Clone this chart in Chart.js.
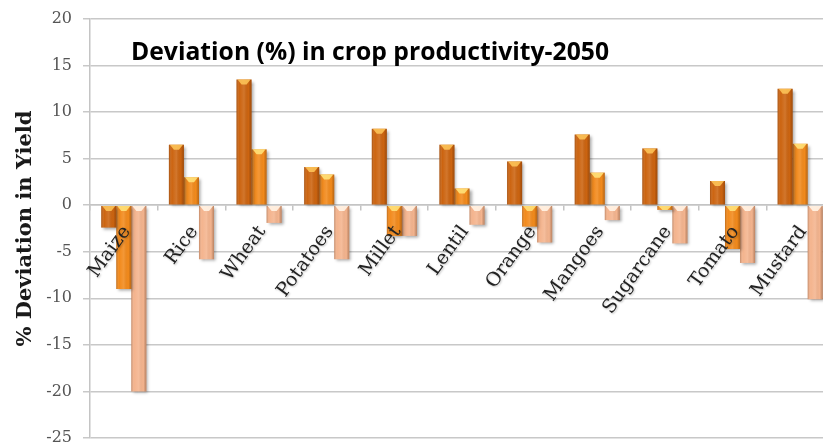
<!DOCTYPE html>
<html>
<head>
<meta charset="utf-8">
<script src="https://cdn.jsdelivr.net/npm/chart.js@4"></script>
<style>
  html, body { margin: 0; padding: 0; background: #fff; overflow: hidden; }
  #wrap { width: 834px; height: 448px; }
</style>
</head>
<body>
<div id="wrap"><canvas id="myChart" width="834" height="448"></canvas></div>
<script>
let crops = ["Maize", "Rice", "Wheat", "Potatoes", "Millet", "Lentil", "Orange", "Mangoes", "Sugarcane", "Tomato", "Mustard"];

let series1 = [-2.4, 6.5, 13.5, 4.1, 8.2, 6.5, 4.7, 7.6, 6.1, 2.6, 12.5];
let series2 = [-9.0, 3.0, 6.0, 3.3, -3.3, 1.8, -2.3, 3.5, -0.5, -4.7, 6.6];
let series3 = [-20.0, -5.8, -1.9, -5.8, -3.3, -2.1, -4.0, -1.6, -4.1, -6.2, -10.1];

let yMin = -25;
let yMax = 20;
let yStep = 5;

let titleText = "Deviation (%) in crop productivity-2050";
let yTitle = "% Deviation in Yield";

let colors = ["#CC6410", "#F28A1C", "#F4B48E"];
let capColors = ["rgba(255,200,90,0.85)", "rgba(255,225,120,0.9)", "rgba(255,240,225,0.95)"];

// soft drop shadow under the bars
const barShadow = {
  id: "barShadow",
  beforeDatasetDraw(chart) {
    const ctx = chart.ctx;
    ctx.save();
    ctx.shadowColor = "rgba(0,0,0,0.35)";
    ctx.shadowBlur = 3;
    ctx.shadowOffsetX = 2;
    ctx.shadowOffsetY = 2;
  },
  afterDatasetDraw(chart) {
    chart.ctx.restore();
  }
};

// rounded look + light cap at the top of every bar
const barShade = {
  id: "barShade",
  afterDatasetsDraw(chart) {
    const ctx = chart.ctx;
    ctx.save();
    chart.data.datasets.forEach((ds, i) => {
      chart.getDatasetMeta(i).data.forEach(bar => {
        const p = bar.getProps(["x", "y", "base", "width"], true);
        const left = p.x - p.width / 2;
        const top = Math.min(p.y, p.base);
        const h = Math.abs(p.base - p.y);
        const g = ctx.createLinearGradient(left, 0, left + p.width, 0);
        g.addColorStop(0, "rgba(80,30,0,0.32)");
        g.addColorStop(0.2, "rgba(255,255,255,0)");
        g.addColorStop(0.5, "rgba(255,255,255,0.12)");
        g.addColorStop(0.8, "rgba(0,0,0,0)");
        g.addColorStop(1, "rgba(80,30,0,0.32)");
        ctx.fillStyle = g;
        ctx.fillRect(left, top, p.width, h);
        const capH = Math.min(5, h);
        ctx.fillStyle = capColors[i];
        ctx.beginPath();
        ctx.moveTo(left + 1, top);
        ctx.lineTo(left + p.width - 1, top);
        ctx.lineTo(left + p.width - 5, top + capH);
        ctx.lineTo(left + 5, top + capH);
        ctx.closePath();
        ctx.fill();
      });
    });
    ctx.restore();
  }
};

// bold title inside the plot area
const plotTitle = {
  id: "plotTitle",
  beforeDatasetsDraw(chart) {
    const ctx = chart.ctx;
    const area = chart.chartArea;
    ctx.save();
    ctx.font = "bold 25px 'Open Sans'";
    ctx.fillStyle = "#000";
    ctx.textAlign = "left";
    ctx.textBaseline = "alphabetic";
    ctx.fillText(titleText, area.left + 41, area.top + 41, 478);
    ctx.restore();
  }
};

// slanted crop names hanging just under the zero line, on top of the bars
const cropLabels = {
  id: "cropLabels",
  afterDraw(chart) {
    const ctx = chart.ctx;
    const xs = chart.scales.x;
    const y0 = chart.scales.y.getPixelForValue(0);
    ctx.save();
    ctx.font = "19px 'DejaVu Serif'";
    ctx.fillStyle = "#222";
    ctx.textAlign = "right";
    ctx.textBaseline = "middle";
    ctx.shadowColor = "rgba(0,0,0,0.25)";
    ctx.shadowBlur = 2;
    ctx.shadowOffsetX = 1;
    ctx.shadowOffsetY = 1;
    crops.forEach((name, i) => {
      ctx.save();
      ctx.translate(xs.getPixelForValue(i) + 3, y0 + 23);
      ctx.rotate(-54 * Math.PI / 180);
      ctx.fillText(name, 0, 0);
      ctx.restore();
    });
    ctx.restore();
  }
};

let ctx = document.getElementById("myChart").getContext("2d");

let chart = new Chart(ctx, {
  type: "bar",
  data: {
    labels: crops,
    datasets: [
      { label: "Series 1", data: series1, backgroundColor: colors[0] },
      { label: "Series 2", data: series2, backgroundColor: colors[1] },
      { label: "Series 3", data: series3, backgroundColor: colors[2] }
    ]
  },
  options: {
    responsive: false,
    animation: false,
    layout: { padding: { top: 19, bottom: 10, left: 0, right: 0 } },
    datasets: {
      bar: { categoryPercentage: 0.667, barPercentage: 1.0, borderWidth: 0 }
    },
    plugins: {
      legend: { display: false },
      title: { display: false },
      tooltip: { enabled: false }
    },
    scales: {
      x: {
        position: { y: 0 },
        grid: {
          drawOnChartArea: false,
          drawTicks: true,
          tickLength: 5,
          offset: true,
          color: "#c4c4c4",
          lineWidth: 1.5
        },
        border: { color: "#c4c4c4", width: 1.5 },
        ticks: { display: false }
      },
      y: {
        min: yMin,
        max: yMax,
        afterFit: scale => {
          scale.width = 90;
          scale.paddingTop = 0;
          scale.paddingBottom = 0;
        },
        grid: { color: "#c8c8c8", lineWidth: 1.5, tickLength: 7 },
        border: { color: "#c4c4c4", width: 1.5 },
        ticks: {
          stepSize: yStep,
          padding: 11,
          color: "#555",
          font: { family: "'DejaVu Serif'", size: 16 }
        },
        title: {
          display: true,
          text: yTitle,
          color: "#1a1a1a",
          padding: { top: 13, bottom: 0 },
          font: { family: "'DejaVu Serif'", size: 21, weight: "bold" }
        }
      }
    }
  },
  plugins: [barShadow, barShade, plotTitle, cropLabels]
});
</script>
</body>
</html>
